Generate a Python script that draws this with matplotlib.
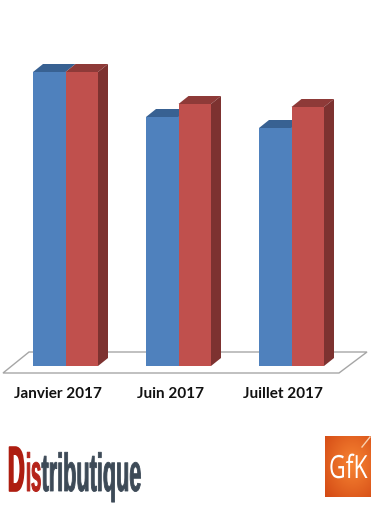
import numpy as np
import matplotlib
matplotlib.use("Agg")
import matplotlib.pyplot as plt
from matplotlib.patches import Polygon
from matplotlib.patheffects import AbstractPathEffect
from matplotlib.transforms import Affine2D

categories = ["Janvier 2017", "Juin 2017", "Juillet 2017"]
series_blue = [294, 249, 238]
series_red = [294, 262, 259]
label_shift = [-7.5, -8, -8.5]

BLUE, BLUE_TOP = "#4F81BD", "#386192"
RED, RED_TOP, RED_SIDE = "#C0504D", "#8E3A38", "#7D3230"
DX, DY, W = 10, 8, 32.5


class Squeeze(AbstractPathEffect):
    """Draw a text narrower and heavier, about its own left edge."""

    def __init__(self, sx, stroke=0.0):
        super().__init__()
        self.sx = sx
        self.stroke = stroke

    def draw_path(self, renderer, gc, tpath, affine, rgbFace=None):
        x0 = affine.get_matrix()[0, 2]
        t = affine + Affine2D().translate(-x0, 0).scale(self.sx, 1).translate(x0, 0)
        gc2 = renderer.new_gc()
        gc2.copy_properties(gc)
        gc2.set_linewidth(self.stroke)
        gc2.set_foreground(rgbFace)
        renderer.draw_path(gc2, tpath, t, rgbFace)
        gc2.restore()


def squeezed_text(x, y, s, sx, stroke=0.0, **kw):
    return ax.text(x, y, s, ha="left", va="baseline",
                   path_effects=[Squeeze(sx, stroke)], **kw)


fig = plt.figure(figsize=(3.75, 5.05), dpi=100)
ax = fig.add_axes([0, 0, 1, 1])
ax.axis("off")

# floor
ax.add_patch(Polygon([(3, -7), (339, -7), (367, 14), (29, 14)], closed=True,
                     fc="white", ec="#A6A6A6", lw=1.0, zorder=1))

centers = 65.5 + 113 * np.arange(len(categories))


def bar3d(x, h, front, top, side):
    ax.bar(x, h, width=W, align="edge", color=front, lw=0, zorder=3)
    ax.add_patch(Polygon([(x, h), (x + W, h), (x + W + DX, h + DY), (x + DX, h + DY)],
                         fc=top, lw=0, zorder=2))
    if side is not None:
        ax.add_patch(Polygon([(x + W, 0), (x + W + DX, DY), (x + W + DX, h + DY), (x + W, h)],
                             fc=side, lw=0, zorder=2))


for c, b, r, lab, s in zip(centers, series_blue, series_red, categories, label_shift):
    bar3d(c - W, b, BLUE, BLUE_TOP, None)
    bar3d(c, r, RED, RED_TOP, RED_SIDE)
    ax.text(c + s, -28.5, lab, ha="center", va="center",
            family="Lato", weight="bold", fontsize=11, color="#111111")

# Distributique logo
logo = "Liberation Sans"
base = -125
squeezed_text(8, base, "D", 0.36, 1.2, family=logo, weight="bold", fontsize=46, color="#AE1D10")
squeezed_text(26, base, "is", 0.34, 0.7, family=logo, weight="bold", fontsize=38.5, color="#B5231A")
squeezed_text(41.5, base, "tributique", 0.405, 0.6, family=logo, weight="bold", fontsize=38.5,
              color="#3D4A57")

# GfK logo
gy, gx = np.mgrid[0:1:60j, 0:1:45j]
d = np.clip(1 - np.hypot((gx - 0.6) / 0.8, (gy - 0.45) / 0.8), 0, 1)[..., None]
grad = (1 - d) * np.array([0.83, 0.29, 0.08]) + d * np.array([0.97, 0.52, 0.20])
ax.imshow(grad, extent=(325, 371, -131, -70), origin="upper", aspect="auto", zorder=2)
ax.plot([362, 370], [-81, -71], color="#F9D2B0", lw=1, zorder=3)
squeezed_text(329, -112, "GfK", 0.72, 0.0, family="Open Sans", fontsize=23, color="white", zorder=4)

ax.set_xlim(0, 375)
ax.set_ylim(-139, 366)

fig.savefig("out.png", dpi=100, facecolor="white")
